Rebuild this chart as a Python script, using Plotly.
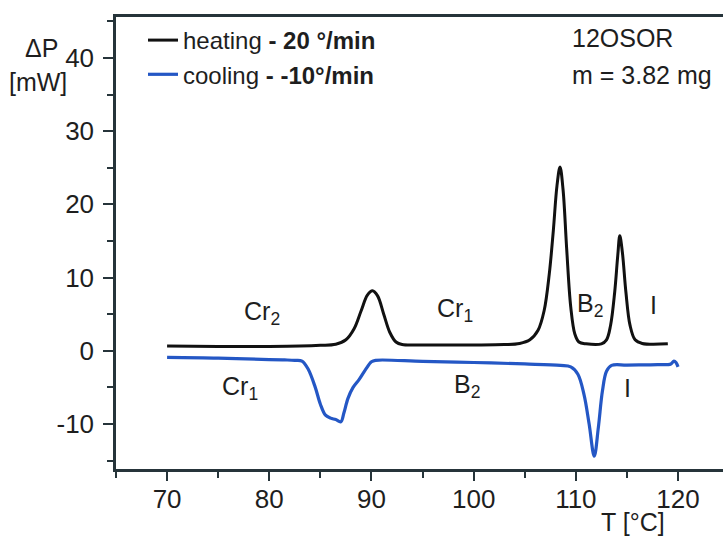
import plotly.graph_objects as go

# DSC trace of 12OSOR: heating run (20 K/min) and cooling run (-10 K/min)
heat_T = [70.0, 75.0, 80.0, 83.0, 85.0, 86.5, 87.5, 88.3, 89.0, 89.6, 90.1, 90.6,
          91.2, 91.8, 92.4, 93.0, 95.0, 100.0, 103.0, 104.5, 105.5, 106.3, 106.9,
          107.4, 107.8, 108.15, 108.45, 108.75, 109.1, 109.5, 109.9, 110.3, 111.0,
          112.5, 113.0, 113.4, 113.8, 114.1, 114.3, 114.55, 114.9, 115.3, 115.8,
          116.5, 119.0]
heat_P = [0.65, 0.6, 0.6, 0.65, 0.75, 0.9, 1.5, 3.0, 5.5, 7.6, 8.2, 7.5,
          5.0, 2.5, 1.2, 0.85, 0.8, 0.8, 0.85, 1.0, 1.5, 2.8, 5.5,
          10.5, 16.5, 22.5, 25.1, 22.0, 14.0, 6.0, 2.3, 1.2, 0.95,
          0.95, 1.5, 3.5, 8.0, 13.0, 15.7, 13.5, 8.0, 3.5, 1.5,
          1.0, 0.95]

cool_T = [70.0, 75.0, 80.0, 81.5, 82.5, 83.2, 83.8, 84.5, 85.0, 85.5, 86.0, 86.5,
          87.0, 87.3, 87.7, 88.2, 88.8, 89.4, 90.0, 90.4, 95.0, 100.0, 105.0,
          108.5, 109.5, 110.2, 110.8, 111.3, 111.8, 112.2, 112.6, 113.0, 113.5,
          115.0, 118.0, 119.3, 119.6, 119.8, 120.0]
cool_P = [-0.9, -1.0, -1.2, -1.25, -1.3, -1.4, -2.5, -5.0, -7.3, -8.8, -9.2, -9.4,
          -9.7, -8.5, -6.5, -5.0, -3.9, -2.6, -1.5, -1.3, -1.45, -1.6, -1.8,
          -2.0, -2.2, -3.2, -6.0, -10.0, -14.4, -10.5, -5.5, -2.8, -2.0,
          -1.95, -1.9, -1.8, -1.4, -1.6, -2.2]

# phase labels: (text, T, P)
phase_labels = [
    ("Cr<sub>2</sub>", 79.3, 5.1),
    ("Cr<sub>1</sub>", 98.2, 5.6),
    ("B<sub>2</sub>", 111.4, 6.3),
    ("I", 117.55, 6.25),
    ("Cr<sub>1</sub>", 77.1, -5.1),
    ("B<sub>2</sub>", 99.35, -4.8),
    ("I", 115.1, -5.1),
]

x_ticks = [70, 80, 90, 100, 110, 120]
x_tick_text = ["70", "80", "90", "100", "110", "120"]
y_ticks = [-10, 0, 10, 20, 30, 40]
y_tick_text = ["-10", "0", "10", "20", "30", "40"]

FONT = "Liberation Sans, Arial, sans-serif"
INK = "#1e1e1e"
AXIS = "#26343a"

fig = go.Figure()
fig.add_trace(go.Scatter(
    x=heat_T, y=heat_P, mode="lines", line_shape="spline",
    line=dict(color="#111111", width=3),
    name="heating <b>- 20 °/min</b>",
))
fig.add_trace(go.Scatter(
    x=cool_T, y=cool_P, mode="lines", line_shape="spline",
    line=dict(color="#2457c5", width=3.2),
    name="cooling <b>- -10°/min</b>",
))

W, H = 723, 538
L, R, T, B = 116, 0, 17, 69


def px(xp, yp):
    """pixel position on the page -> paper coordinates"""
    return (xp - L) / (W - L - R), (H - B - yp) / (H - T - B)


annotations = []
for text, tx, ty in phase_labels:
    annotations.append(dict(x=tx, y=ty, xref="x", yref="y", text=text,
                            showarrow=False, font=dict(size=25, color=INK, family=FONT)))

for text, (xp, yp), anchor in [
    ("ΔP", (41, 48), "center"),
    ("[mW]", (38, 82), "center"),
    ("12OSOR", (570, 38), "left"),
    ("m = 3.82 mg", (570, 75), "left"),
    ("T [°C]", (633, 522), "center"),
]:
    ax, ay = px(xp, yp)
    annotations.append(dict(x=ax, y=ay, xref="paper", yref="paper", text=text,
                            xanchor=anchor, yanchor="middle", showarrow=False,
                            font=dict(size=25, color=INK, family=FONT)))

lx, ly = px(143, 18)
fig.update_layout(
    width=W, height=H,
    margin=dict(l=L, r=R, t=T, b=B, pad=0),
    paper_bgcolor="white", plot_bgcolor="white",
    font=dict(family=FONT, color=INK),
    showlegend=True,
    legend=dict(x=lx, y=ly, xanchor="left", yanchor="top",
                bgcolor="rgba(0,0,0,0)", borderwidth=0,
                font=dict(size=24, color=INK, family=FONT),
                tracegroupgap=0, itemwidth=30),
    annotations=annotations,
)
fig.update_xaxes(
    range=[65.0, 124.4], tickvals=x_ticks, ticktext=x_tick_text,
    ticks="outside", ticklen=9, tickwidth=2, ticklabelstandoff=-4,
    tickcolor=AXIS, showline=True, linecolor=AXIS, linewidth=2.5, mirror=True,
    showgrid=False, zeroline=False,
    tickfont=dict(size=26, color=INK, family=FONT),
    minor=dict(dtick=5, tick0=65, ticks="outside", ticklen=6, tickwidth=2, tickcolor=AXIS, showgrid=False),
)
fig.update_yaxes(
    range=[-16.15, 45.6], tickvals=y_ticks, ticktext=y_tick_text,
    ticks="outside", ticklen=10, tickwidth=2, ticklabelstandoff=4,
    tickcolor=AXIS, showline=True, linecolor=AXIS, linewidth=2.5, mirror=False,
    showgrid=False, zeroline=False,
    tickfont=dict(size=26, color=INK, family=FONT),
    minor=dict(dtick=5, tick0=-15, ticks="outside", ticklen=6, tickwidth=2, tickcolor=AXIS, showgrid=False),
)

fig.write_html("out.html")
